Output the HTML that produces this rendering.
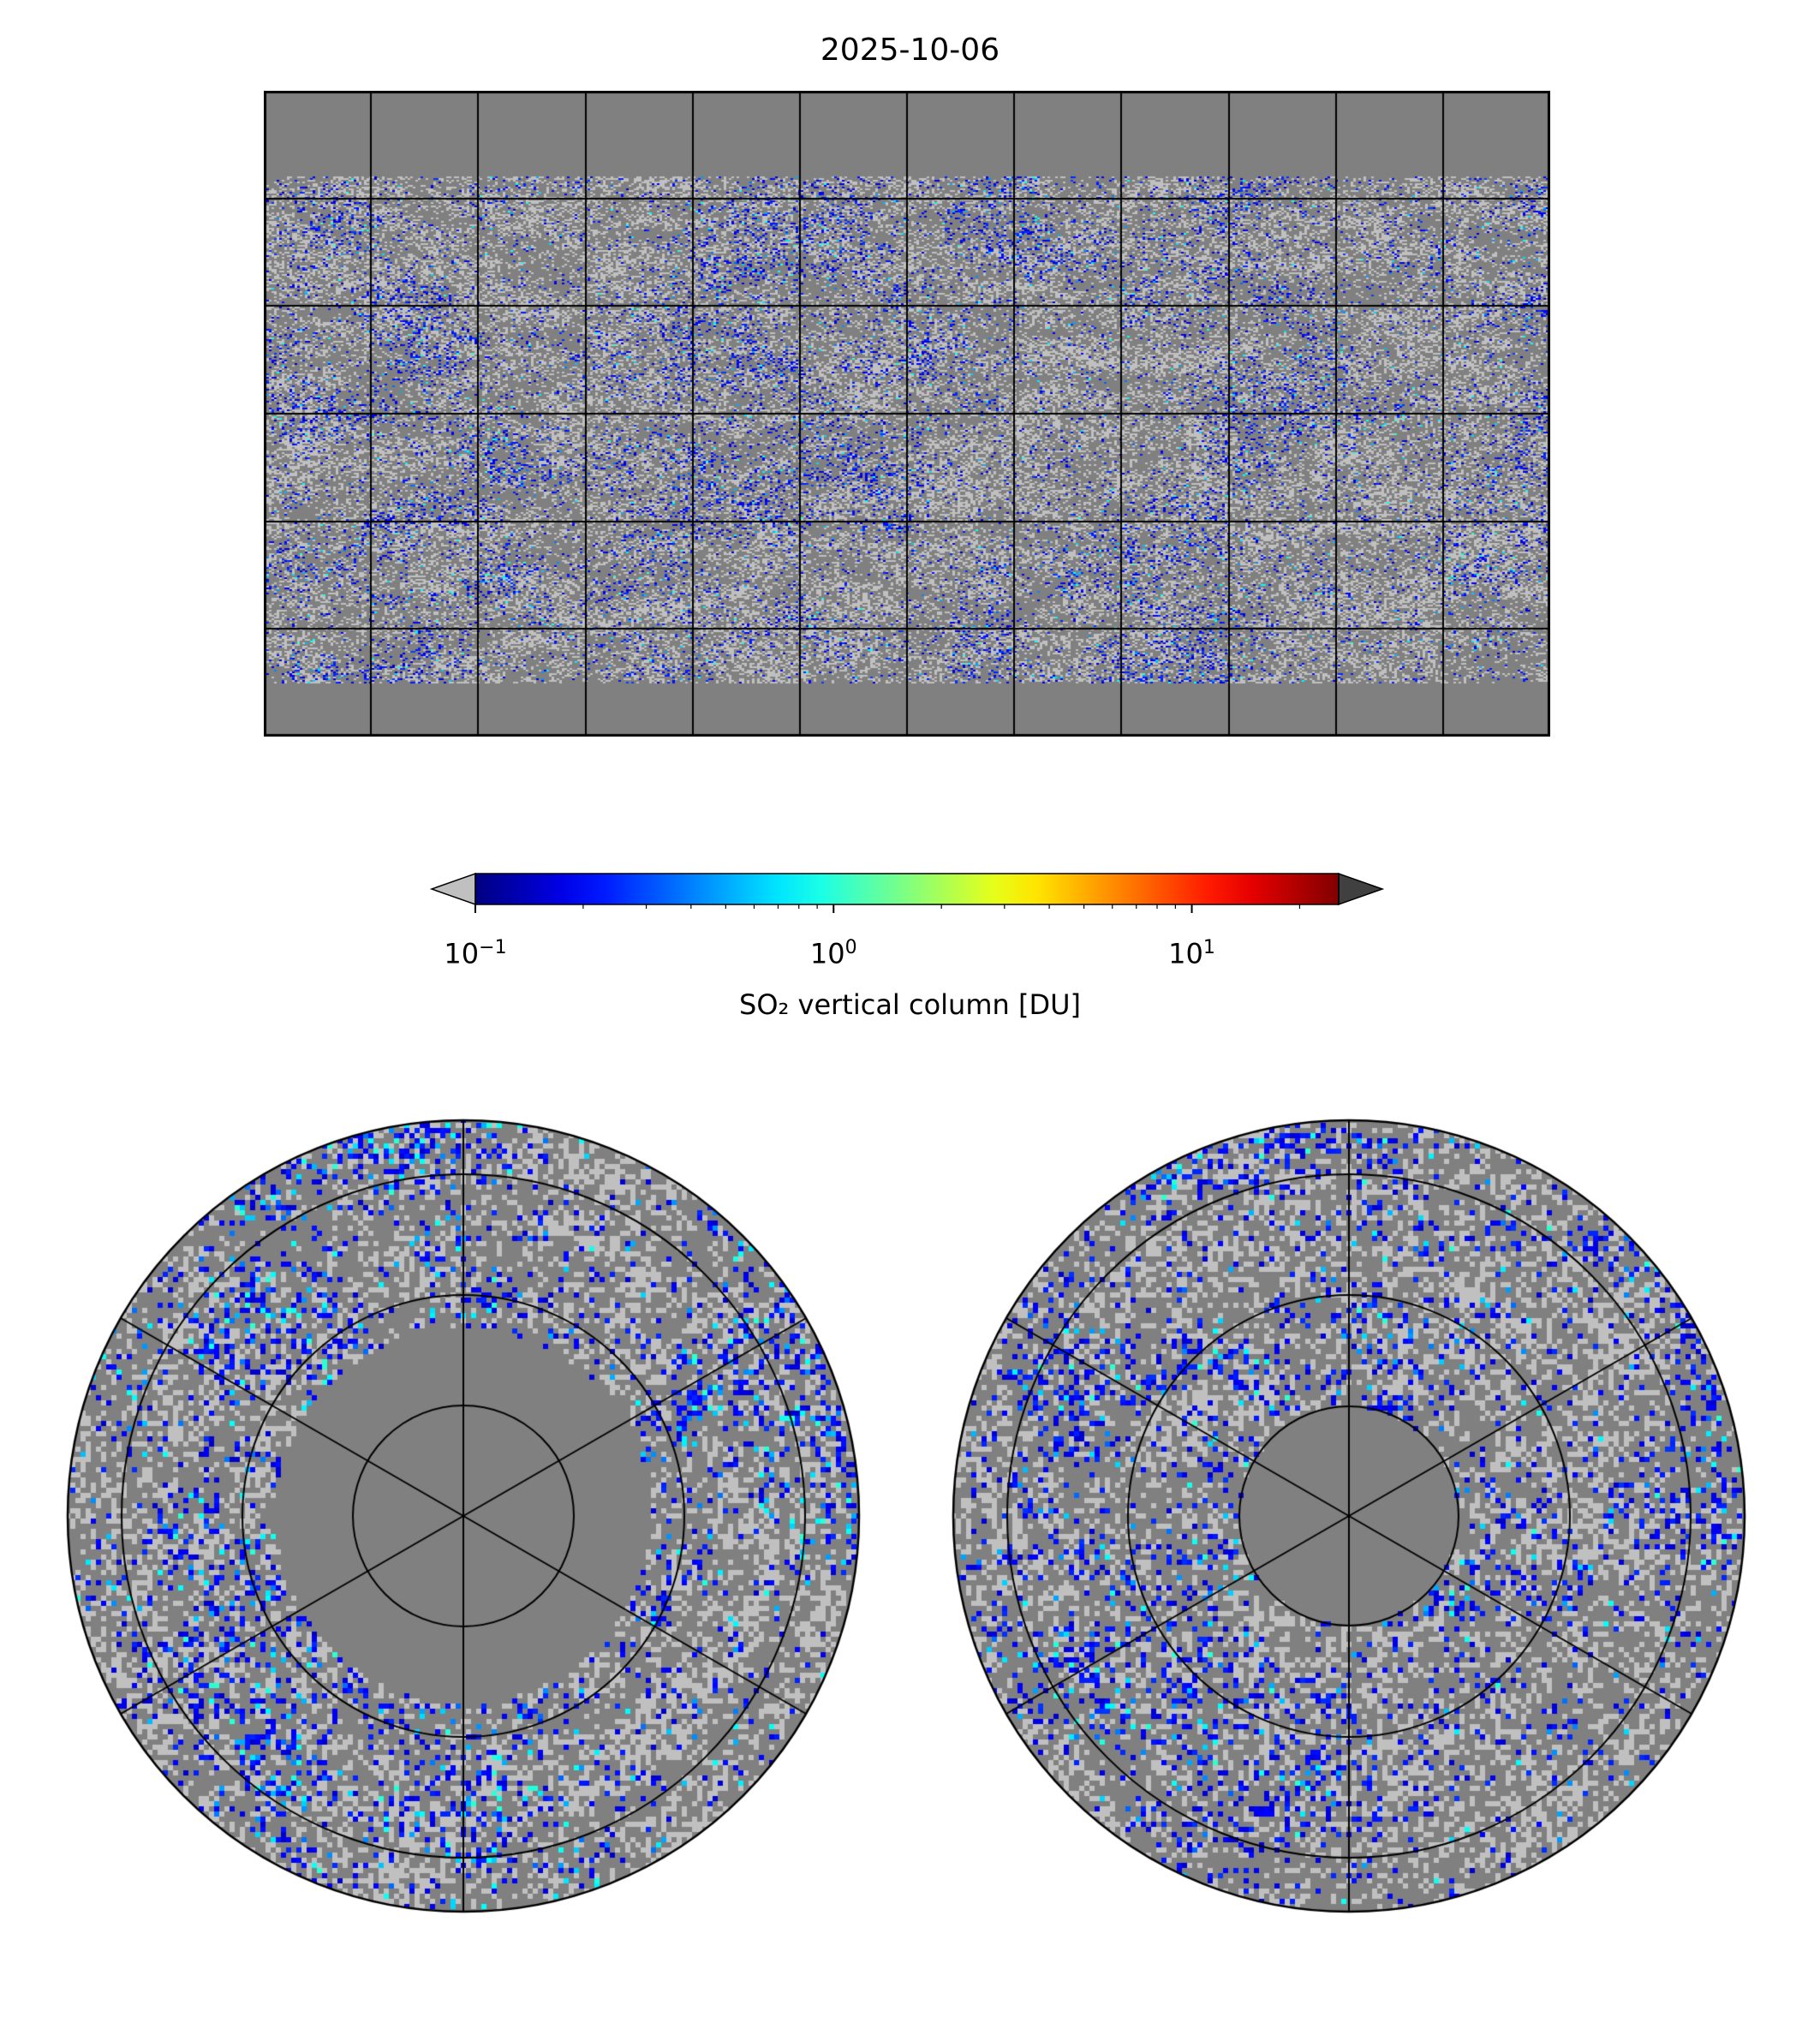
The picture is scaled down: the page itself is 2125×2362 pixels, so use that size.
<!DOCTYPE html>
<html><head><meta charset="utf-8">
<style>
html,body{margin:0;padding:0;background:#fff;}
#root{position:relative;width:2125px;height:2362px;font-family:"DejaVu Sans","Liberation Sans",sans-serif;color:#000;}
.abs{position:absolute;}
</style></head>
<body>
<div id="root">
  <div class="abs" style="left:0;width:2125px;top:38px;text-align:center;font-size:36px;">2025-10-06</div>
  <canvas id="map" class="abs" width="1502" height="754" style="left:308px;top:106px;"></canvas>
  <svg id="cbar" class="abs" width="2125" height="140" style="left:0;top:1010px;"></svg>
  <div id="cbticks"></div>
  <div class="abs" style="left:0;width:2125px;top:1154px;text-align:center;font-size:32px;">SO₂ vertical column [DU]</div>
  <canvas id="north" class="abs" width="930" height="930" style="left:76px;top:1305px;"></canvas>
  <canvas id="south" class="abs" width="930" height="930" style="left:1110px;top:1305px;"></canvas>
</div>
<script>
// colorbar data
const cbTicks = [0.1, 1, 10];
const cbTickExp = ["−1", "0", "1"];
const cbMin = 0.1, cbMax = 25.7;

function jet(t){
  const c=v=>Math.max(0,Math.min(1,v));
  return [c(1.5-Math.abs(4*t-3)),c(1.5-Math.abs(4*t-2)),c(1.5-Math.abs(4*t-1))].map(v=>Math.round(v*255));
}
(function(){
  const svg=document.getElementById('cbar'), ns='http://www.w3.org/2000/svg';
  const x0=555,x1=1563,y0=10,y1=46;
  const lx=v=>x0+(Math.log10(v)-Math.log10(cbMin))/(Math.log10(cbMax)-Math.log10(cbMin))*(x1-x0);
  const defs=document.createElementNS(ns,'defs');
  const g=document.createElementNS(ns,'linearGradient');g.setAttribute('id','jetg');
  for(let i=0;i<=20;i++){const s=document.createElementNS(ns,'stop');s.setAttribute('offset',(i/20));const c=jet(i/20);s.setAttribute('stop-color','rgb('+c+')');g.appendChild(s);}
  defs.appendChild(g);svg.appendChild(defs);
  const r=document.createElementNS(ns,'rect');
  r.setAttribute('x',x0);r.setAttribute('y',y0);r.setAttribute('width',x1-x0);r.setAttribute('height',y1-y0);r.setAttribute('fill','url(#jetg)');
  
  
  svg.appendChild(r);
  const pl=document.createElementNS(ns,'polygon');
  pl.setAttribute('points',`${x0},${y0} ${x0},${y1} 504,${(y0+y1)/2}`);pl.setAttribute('fill','#c0c0c0');pl.setAttribute('stroke','#000');pl.setAttribute('stroke-width','1.5');
  
  
  svg.appendChild(pl);
  const pr=document.createElementNS(ns,'polygon');
  pr.setAttribute('points',`${x1},${y0} ${x1},${y1} 1614,${(y0+y1)/2}`);pr.setAttribute('fill','#404040');pr.setAttribute('stroke','#000');pr.setAttribute('stroke-width','1.5');
  
  
  svg.appendChild(pr);
  const ob=document.createElementNS(ns,'rect');
  ob.setAttribute('x',x0);ob.setAttribute('y',y0);ob.setAttribute('width',x1-x0);ob.setAttribute('height',y1-y0);ob.setAttribute('fill','none');ob.setAttribute('stroke','#000');ob.setAttribute('stroke-width','1.5');
  svg.appendChild(ob);
  for(let d=-1;d<=1;d++)for(let m=1;m<10;m++){const v=m*Math.pow(10,d);if(v<cbMin||v>cbMax)continue;const x=lx(v);
    const t=document.createElementNS(ns,'line');t.setAttribute('x1',x);t.setAttribute('x2',x);t.setAttribute('y1',y1);t.setAttribute('y2',y1+(m===1?10:5));t.setAttribute('stroke','#000');t.setAttribute('stroke-width',m===1?2:1.2);svg.appendChild(t);}
  const box=document.getElementById('cbticks');
  cbTicks.forEach((v,i)=>{const d=document.createElement('div');d.className='abs';
    
    
    d.style.left=(lx(v)-60)+'px';d.style.width='120px';d.style.textAlign='center';d.style.top='1094px';d.style.fontSize='32px';
    d.innerHTML='10<sup style="font-size:22px">'+cbTickExp[i]+'</sup>';box.appendChild(d);});
})();

function hash(x,y,s){let h=(x*374761393+y*668265263+s*982451653)|0;h=(h^(h>>>13))*1274126177|0;h=h^(h>>>16);return (h>>>0)/4294967296;}
function vnoise(x,y,s){const xi=Math.floor(x),yi=Math.floor(y),fx=x-xi,fy=y-yi;const u=fx*fx*(3-2*fx),v=fy*fy*(3-2*fy);
  const a=hash(xi,yi,s),b=hash(xi+1,yi,s),c=hash(xi,yi+1,s),d=hash(xi+1,yi+1,s);return a+(b-a)*u+(c-a)*v+(a-b-c+d)*u*v;}
function fbm(x,y,s){return 0.5*vnoise(x,y,s)+0.3*vnoise(x*2.3,y*2.3,s+7)+0.2*vnoise(x*5.1,y*5.1,s+13);}
function cellColor(lon,lat,ix,iy,dens,cyan){
  if(lat>66||lat<-75) return null;
  const lx=(lon+180)/360, ly=(lat+90)/180;
  const n1=fbm(lx*30,ly*40,1);
  const n2=fbm(lx*16,ly*12,5);
  const r=hash(ix,iy,9), r2=hash(ix,iy,21), r3=hash(ix,iy,33);
  const p=dens*(0.06+0.8*Math.max(0,n2-0.45));
  if(r<p){let t=0.07+0.13*r3; if(r3>0.9*(2-cyan)/1) t=0.22+0.18*r2*(n2>0.55?1.3:1);return 'rgb('+jet(Math.min(t,0.42))+')';}
  const pl=0.15+0.9*(n1-0.3);
  return r2<pl?'#c0c0c0':'#808080';
}
(function(){
  const c=document.getElementById('map').getContext('2d');const W=1502,H=754;
  c.fillStyle='#808080';c.fillRect(0,0,W,H);
  const cw=3,ch=2;
  for(let y=0;y<H;y+=ch)for(let x=0;x<W;x+=cw){const lon=-180+(x+1)/W*360,lat=90-(y+1)/H*180;const col=cellColor(lon,lat,x/cw,y/ch,0.7,1);if(col){c.fillStyle=col;c.fillRect(x,y,cw,ch);}}
  c.strokeStyle='#000';c.lineWidth=2;
  for(let lo=-150;lo<180;lo+=30){const x=Math.round((lo+180)/360*W);c.beginPath();c.moveTo(x,0);c.lineTo(x,H);c.stroke();}
  for(let la=-60;la<90;la+=30){const y=Math.round((90-la)/180*H);c.beginPath();c.moveTo(0,y);c.lineTo(W,y);c.stroke();}
  c.lineWidth=3;c.strokeRect(1.5,1.5,W-3,H-3);
})();
function polar(id,north){
  const c=document.getElementById(id).getContext('2d');const cx=465,cy=465,R=462;
  c.save();c.beginPath();c.arc(cx,cy,R,0,Math.PI*2);c.clip();
  c.fillStyle='#808080';c.fillRect(0,0,930,930);
  const cs=6;
  for(let y=0;y<930;y+=cs)for(let x=0;x<930;x+=cs){
    const dx=x+3-cx,dy=y+3-cy;const rr=Math.sqrt(dx*dx+dy*dy);if(rr>R)continue;
    if(north&&rr<219)continue;
    if(!north&&rr<128)continue;
    let lat=north?60-rr/R*60:-60+rr/R*60;
    const lon=Math.atan2(dx,dy)*180/Math.PI;
    const col=cellColor(lon,lat,x/cs+(north?0:300),y/cs,north?1.15:1.0,north?1.15:1.08);if(col){c.fillStyle=col;c.fillRect(x,y,cs,cs);}
  }
  c.strokeStyle='#000';c.lineWidth=2;
  const rings=north?[129,258,399]:[128,258,399];
  rings.forEach(r=>{c.beginPath();c.arc(cx,cy,r,0,Math.PI*2);c.stroke();});
  for(let a=0;a<180;a+=60){const t=(a+90)*Math.PI/180;c.beginPath();c.moveTo(cx+Math.cos(t)*R,cy+Math.sin(t)*R);c.lineTo(cx-Math.cos(t)*R,cy-Math.sin(t)*R);c.stroke();}
  c.restore();
  c.lineWidth=2.5;c.beginPath();c.arc(cx,cy,R,0,Math.PI*2);c.stroke();
}
polar('north',true);polar('south',false);
</script>
</body></html>
